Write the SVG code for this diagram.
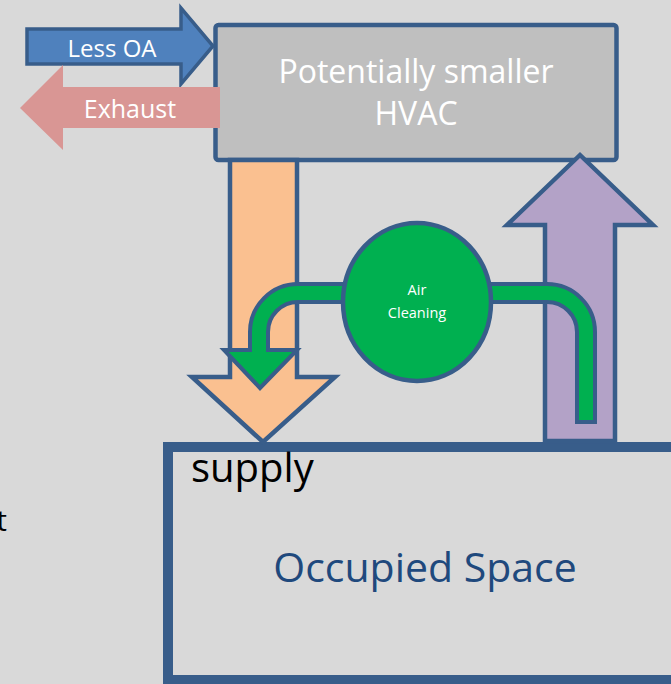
<svg xmlns="http://www.w3.org/2000/svg" width="671" height="684" viewBox="0 0 671 684">
  <style>
    .edge { stroke: #385d8a; stroke-linejoin: miter; }
    .lbl { font-family: "Open Sans", "Noto Sans", sans-serif; }
    .white { fill: #ffffff; }
  </style>
  <rect x="0" y="0" width="671" height="684" fill="#d9d9d9"/>

  <!-- cut-off word at the left edge -->
  <text class="lbl" x="7" y="531" font-size="30" fill="#000000" text-anchor="end">t</text>

  <!-- Occupied space -->
  <g id="occupied-space">
    <rect class="edge" x="168" y="447" width="600" height="233" fill="none" stroke-width="10"/>
    <text class="lbl" x="425" y="582" font-size="41" fill="#1f497d" text-anchor="middle">Occupied Space</text>
  </g>

  <!-- HVAC unit -->
  <g id="hvac">
    <rect class="edge" x="215.5" y="25" width="401" height="135" rx="3" fill="#bfbfbf" stroke-width="4.5"/>
    <text class="lbl white" x="416" y="83" font-size="32" text-anchor="middle">Potentially smaller</text>
    <text class="lbl white" x="416" y="125" font-size="32" text-anchor="middle">HVAC</text>
  </g>

  <g id="connectors">
    <!-- outdoor air in -->
    <g id="less-oa">
      <path class="edge" d="M27,29 L181,29 L181,8 L213,46 L181,84 L181,64 L27,64 Z" fill="#4f81bd" stroke-width="3.5"/>
      <text class="lbl white" x="112" y="57" font-size="24" text-anchor="middle">Less OA</text>
    </g>
    <!-- exhaust out -->
    <g id="exhaust">
      <path d="M220,87 L63,87 L63,65 L20,108 L63,150 L63,128 L220,128 Z" fill="#d99694"/>
      <text class="lbl white" x="130" y="118" font-size="25" text-anchor="middle">Exhaust</text>
    </g>
    <!-- supply air down -->
    <g id="supply-arrow">
      <path class="edge" d="M230,160 L230,377 L192,377 L263,442 L335,377 L297,377 L297,160 Z" fill="#fac090" stroke-width="4.5"/>
    </g>
    <!-- return air up -->
    <g id="return-arrow">
      <path class="edge" d="M545,441 L545,225 L507,225 L580,155 L653,225 L615,225 L615,441 Z" fill="#b3a2c7" stroke-width="4.5"/>
    </g>
    <!-- recirculation through air cleaning -->
    <g id="recirculation">
      <path class="edge" d="M260,388 L297,350 L268,350 L268,332 A30,30 0 0 1 298,302 L547,302 A30,30 0 0 1 577,332 L577,422 L595,422 L595,332 A48,48 0 0 0 547,284 L298,284 A48,48 0 0 0 250,332 L250,350 L224,350 Z" fill="#00b050" stroke-width="4"/>
    </g>
  </g>

  <!-- Air cleaning unit -->
  <g id="air-cleaning">
    <ellipse class="edge" cx="417" cy="302" rx="74" ry="79" fill="#00b050" stroke-width="4.5"/>
    <text class="lbl white" x="417" y="295" font-size="14.5" text-anchor="middle">Air</text>
    <text class="lbl white" x="417" y="318" font-size="14.5" text-anchor="middle">Cleaning</text>
  </g>

  <text class="lbl" x="191" y="482" font-size="40" fill="#000000">supply</text>
</svg>
